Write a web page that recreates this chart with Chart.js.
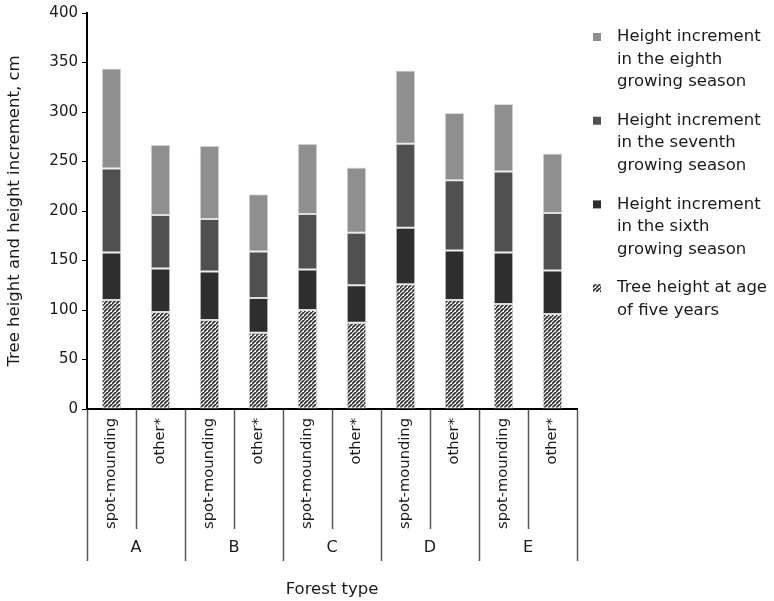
<!DOCTYPE html>
<html>
<head>
<meta charset="utf-8">
<script src="https://cdn.jsdelivr.net/npm/chart.js@4/dist/chart.umd.min.js"></script>
<style>
  html, body { margin: 0; padding: 0; background: #ffffff; }
  #wrap { width: 774px; height: 601px; }
</style>
</head>
<body>
<div id="wrap"><canvas id="chart" width="774" height="601"></canvas></div>
<script>
// Forest types and site-preparation methods
const groups = ['A', 'B', 'C', 'D', 'E'];
const methods = ['spot-mounding', 'other*'];
const categories = ['A spot-mounding', 'A other*', 'B spot-mounding', 'B other*', 'C spot-mounding',
                    'C other*', 'D spot-mounding', 'D other*', 'E spot-mounding', 'E other*'];

// Tree height at age five and the yearly height increments that follow (cm)
const heightAge5 = [110, 98, 90, 77, 100, 87, 126, 110, 106, 96];
const incSixth   = [48, 44, 49, 35, 41, 38, 57, 50, 52, 44];
const incSeventh = [85, 54, 53, 47, 56, 53, 85, 71, 82, 58];
const incEighth  = [101, 71, 74, 58, 71, 66, 74, 68, 68, 60];

const yTicks = [0, 50, 100, 150, 200, 250, 300, 350, 400];

const FONT = '"DejaVu Sans", sans-serif';
const TEXT = '#1a1a1a';

// Diagonal hatch used for the age-five height
function makeHatch() {
  const n = 4;
  const c = document.createElement('canvas');
  c.width = n; c.height = n;
  const g = c.getContext('2d');
  g.fillStyle = '#f2f2f2';
  g.fillRect(0, 0, n, n);
  g.strokeStyle = '#303030';
  g.lineWidth = 1.6;
  g.beginPath();
  g.moveTo(-1, n + 1); g.lineTo(n + 1, -1);
  g.moveTo(-n - 1, n + 1); g.lineTo(1, -1);
  g.moveTo(n - 1, 2 * n + 1); g.lineTo(2 * n + 1, n - 1);
  g.stroke();
  return g.createPattern(c, 'repeat');
}
const hatch = makeHatch();

const legendItems = [
  { ds: 3, lines: ['Height increment', 'in the eighth', 'growing season'] },
  { ds: 2, lines: ['Height increment', 'in the seventh', 'growing season'] },
  { ds: 1, lines: ['Height increment', 'in the sixth', 'growing season'] },
  { ds: 0, lines: ['Tree height at age', 'of five years'] }
];

// Two-level category axis, axis title and the side legend
const annotations = {
  id: 'annotations',
  afterDraw(chart) {
    const ctx = chart.ctx;
    const x = chart.scales.x;
    const area = chart.chartArea;
    const step = x.getPixelForValue(1) - x.getPixelForValue(0);
    const top = area.bottom;
    ctx.save();

    // separators
    ctx.strokeStyle = '#555555';
    ctx.lineWidth = 1.5;
    for (let i = 0; i <= categories.length; i++) {
      const px = Math.round(x.getPixelForValue(0) - step / 2 + i * step) + 0.5;
      const end = (i % 2 === 0) ? 561 : 529;
      ctx.beginPath();
      ctx.moveTo(px, top + 1);
      ctx.lineTo(px, end);
      ctx.stroke();
    }

    // rotated method labels
    ctx.fillStyle = TEXT;
    ctx.font = '14.7px ' + FONT;
    ctx.textAlign = 'right';
    ctx.textBaseline = 'middle';
    categories.forEach((c, i) => {
      const px = x.getPixelForValue(i);
      ctx.save();
      ctx.translate(px, top + 9);
      ctx.rotate(-Math.PI / 2);
      ctx.fillText(methods[i % 2], 0, 0);
      ctx.restore();
    });

    // forest type labels
    ctx.font = '16px ' + FONT;
    ctx.textAlign = 'center';
    groups.forEach((g, k) => {
      const px = (x.getPixelForValue(2 * k) + x.getPixelForValue(2 * k + 1)) / 2;
      ctx.fillText(g, px, 548);
    });

    // axis title
    ctx.font = '16.5px ' + FONT;
    ctx.fillText('Forest type', (area.left + area.right) / 2, 590);

    // legend
    const ds = chart.data.datasets;
    legendItems.forEach((item, k) => {
      const y0 = 37 + k * 83.7;
      ctx.fillStyle = ds[item.ds].backgroundColor;
      ctx.fillRect(593, y0 - 4, 8, 8);
      ctx.fillStyle = TEXT;
      ctx.textAlign = 'left';
      item.lines.forEach((t, j) => ctx.fillText(t, 617, y0 + j * 22.5));
    });
    ctx.restore();
  }
};

const seg = (label, data, color) => ({
  label, data,
  backgroundColor: color,
  borderColor: '#dcdcdc',
  borderWidth: 1,
  borderSkipped: false,
  barPercentage: 0.4,
  categoryPercentage: 1.0
});

new Chart(document.getElementById('chart'), {
  type: 'bar',
  data: {
    labels: categories,
    datasets: [
      seg('Tree height at age of five years', heightAge5, hatch),
      seg('Height increment in the sixth growing season', incSixth, '#2e2e2e'),
      seg('Height increment in the seventh growing season', incSeventh, '#505050'),
      seg('Height increment in the eighth growing season', incEighth, '#8f8f8f')
    ]
  },
  options: {
    responsive: false,
    devicePixelRatio: 1,
    animation: false,
    layout: { padding: { left: 0, right: 197, top: 13, bottom: 0 } },
    plugins: { legend: { display: false }, tooltip: { enabled: false } },
    scales: {
      x: {
        stacked: true,
        grid: { display: false },
        ticks: { display: false },
        border: { display: true, color: '#000000', width: 2 },
        afterFit(scale) { scale.height = 192; }
      },
      y: {
        stacked: true,
        min: 0, max: 400,
        afterBuildTicks(scale) { scale.ticks = yTicks.map(v => ({ value: v })); },
        grid: { drawOnChartArea: false, drawTicks: true, tickLength: 5, color: '#000000', lineWidth: 1 },
        border: { display: true, color: '#000000', width: 2 },
        ticks: { color: TEXT, font: { family: FONT, size: 15 }, padding: 4 },
        title: {
          display: true,
          text: 'Tree height and height increment, cm',
          color: TEXT,
          font: { family: FONT, size: 16.5 },
          padding: { top: 5, bottom: 0 }
        },
        afterFit(scale) { scale.width = 87; }
      }
    }
  },
  plugins: [annotations]
});
</script>
</body>
</html>
